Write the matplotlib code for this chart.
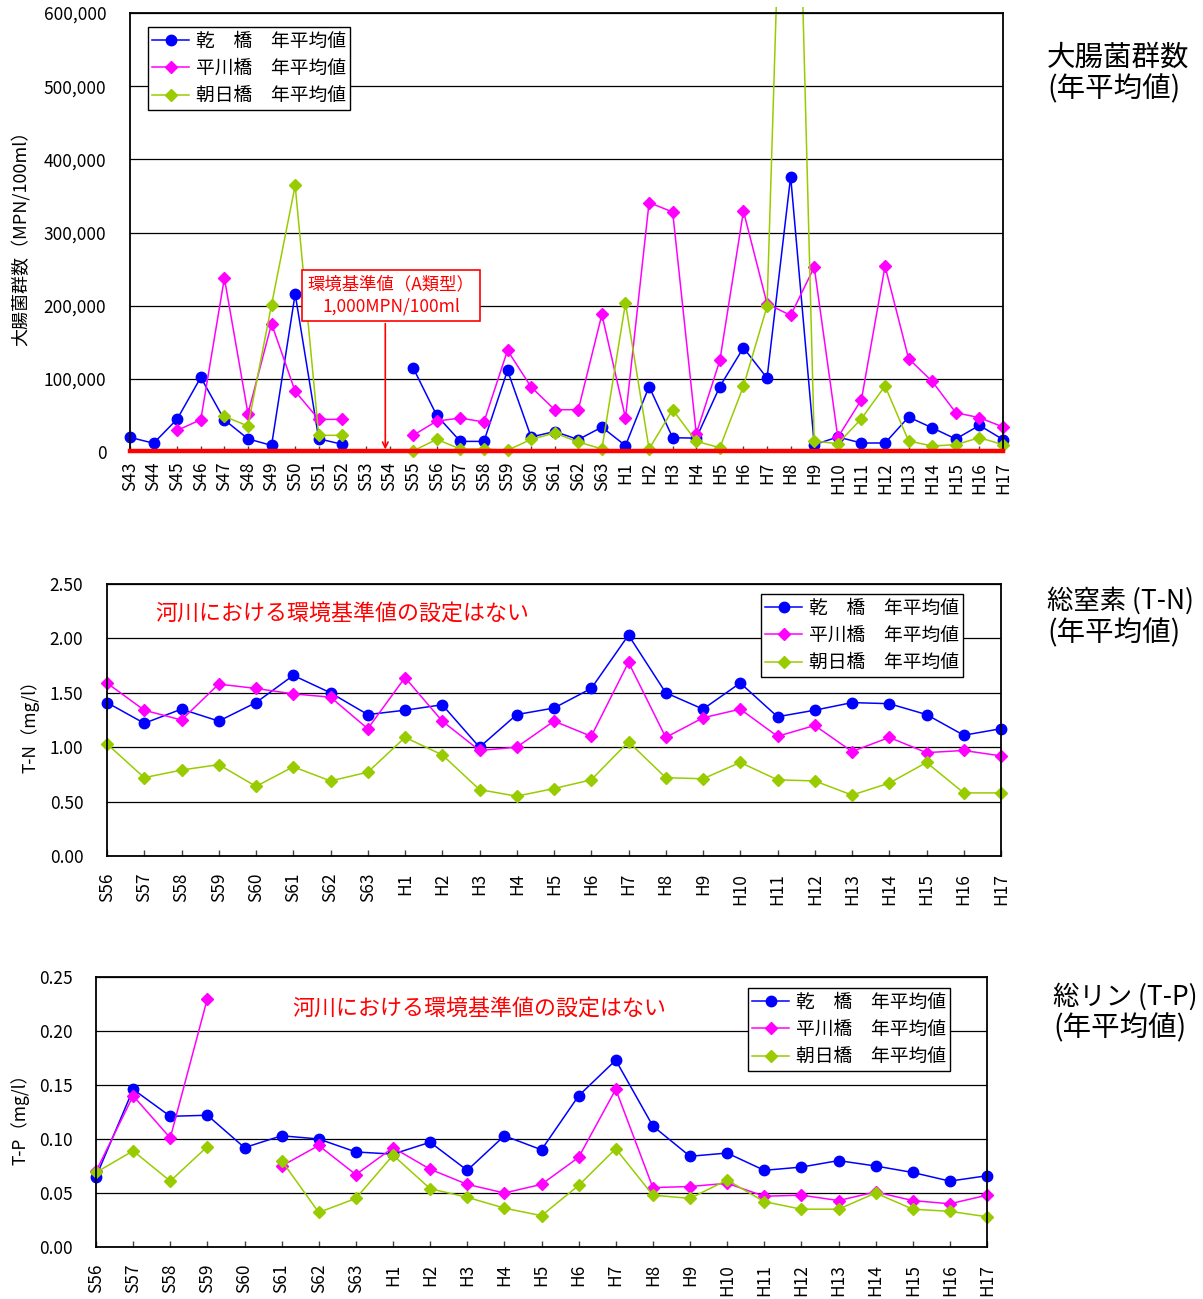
import numpy as np
import matplotlib
matplotlib.use('Agg')
import matplotlib.pyplot as plt
from matplotlib.patches import Rectangle
from matplotlib.ticker import FuncFormatter, MultipleLocator

plt.rcParams['font.family'] = ['Noto Sans CJK JP', 'DejaVu Sans']

nan = np.nan

# ---- 大腸菌群数 (MPN/100ml), S43 - H17 ----
years_coli = ['S43', 'S44', 'S45', 'S46', 'S47', 'S48', 'S49', 'S50', 'S51', 'S52',
              'S53', 'S54', 'S55', 'S56', 'S57', 'S58', 'S59', 'S60', 'S61', 'S62',
              'S63', 'H1', 'H2', 'H3', 'H4', 'H5', 'H6', 'H7', 'H8', 'H9', 'H10',
              'H11', 'H12', 'H13', 'H14', 'H15', 'H16', 'H17']
coli_inui = [20000, 12000, 45000, 102000, 44000, 18000, 9000, 216000, 18000, 10500,
             nan, nan, 115000, 50000, 14500, 14500, 111500, 20500, 28000, 17000,
             34000, 8700, 89500, 19500, 19000, 89500, 142500, 101000, 376500, 10000,
             20500, 12300, 12300, 47800, 33000, 17800, 36400, 17000]
coli_hirakawa = [nan, nan, 29600, 44200, 237700, 52400, 175300, 82900, 44600, 44600,
                 nan, nan, 22800, 42300, 46400, 41000, 138900, 88800, 57800, 57800,
                 188000, 46400, 341000, 327900, 25000, 125200, 329200, 202600, 186700,
                 252700, 20000, 71500, 254000, 127500, 96500, 53700, 46900, 34200]
coli_asahi = [nan, nan, nan, nan, 48700, 35500, 201300, 364300, 22800, 22800,
              nan, nan, 1500, 17300, 4100, 4100, 2300, 17300, 26000, 13700,
              4100, 203600, 4100, 57800, 14600, 5900, 90000, 199000, 1250000, 15000,
              11400, 45500, 90200, 15000, 8200, 10000, 19600, 10000]
coli_standard = 1000

# ---- 総窒素 / 総リン (mg/l), S56 - H17 ----
years_np = ['S56', 'S57', 'S58', 'S59', 'S60', 'S61', 'S62', 'S63', 'H1', 'H2',
            'H3', 'H4', 'H5', 'H6', 'H7', 'H8', 'H9', 'H10', 'H11', 'H12', 'H13',
            'H14', 'H15', 'H16', 'H17']
tn_inui = [1.41, 1.22, 1.35, 1.24, 1.41, 1.66, 1.50, 1.30, 1.34, 1.39, 1.00, 1.30,
           1.36, 1.54, 2.03, 1.50, 1.35, 1.59, 1.28, 1.34, 1.41, 1.40, 1.30, 1.11, 1.17]
tn_hirakawa = [1.59, 1.34, 1.25, 1.58, 1.54, 1.49, 1.46, 1.17, 1.64, 1.24, 0.97, 1.00,
               1.24, 1.10, 1.78, 1.09, 1.27, 1.35, 1.10, 1.20, 0.96, 1.09, 0.95, 0.97, 0.92]
tn_asahi = [1.03, 0.72, 0.79, 0.84, 0.64, 0.82, 0.69, 0.77, 1.09, 0.93, 0.61, 0.55,
            0.62, 0.70, 1.05, 0.72, 0.71, 0.86, 0.70, 0.69, 0.56, 0.67, 0.86, 0.58, 0.58]

tp_inui = [0.065, 0.146, 0.121, 0.122, 0.092, 0.103, 0.100, 0.088, 0.086, 0.097,
           0.071, 0.103, 0.090, 0.140, 0.173, 0.112, 0.084, 0.087, 0.071, 0.074,
           0.080, 0.075, 0.069, 0.061, 0.066]
tp_hirakawa = [0.070, 0.140, 0.101, 0.230, nan, 0.075, 0.094, 0.067, 0.092, 0.072,
               0.058, 0.050, 0.058, 0.083, 0.146, 0.055, 0.056, 0.059, 0.047, 0.048,
               0.043, 0.051, 0.043, 0.040, 0.048]
tp_asahi = [0.069, 0.089, 0.061, 0.093, nan, 0.080, 0.032, 0.045, 0.085, 0.054,
            0.046, 0.036, 0.029, 0.057, 0.091, 0.048, 0.045, 0.062, 0.042, 0.035,
            0.035, 0.050, 0.035, 0.033, 0.028]

series_labels = ['乾　橋　年平均値', '平川橋　年平均値', '朝日橋　年平均値']
series_colors = ['#0000FF', '#FF00FF', '#99CC00']
series_markers = ['o', 'D', 'D']
series_msizes = [7.5, 5.8, 5.8]

W, H = 1203, 1299
fig = plt.figure(figsize=(W / 100, H / 100), dpi=100)


def fx(px):
    return px / W


def fy(py):
    return 1 - py / H


def axes_px(l, t, r, b):
    return fig.add_axes([l / W, 1 - b / H, (r - l) / W, (b - t) / H])


def style_axes(ax, labels, ymax, ystep, fmt, xpad):
    n = len(labels)
    ax.set_xlim(0, n - 1)
    ax.set_ylim(0, ymax)
    ax.set_xticks(range(n))
    ax.set_xticklabels(labels, rotation=90, fontsize=12.5)
    ax.yaxis.set_major_locator(MultipleLocator(ystep))
    ax.yaxis.set_major_formatter(FuncFormatter(fmt))
    ax.tick_params(axis='y', length=0, pad=17, labelsize=12.5)
    ax.tick_params(axis='x', direction='in', length=4, width=1, color='#444444',
                   pad=xpad)
    ax.yaxis.grid(True, color='black', lw=0.9)
    ax.set_axisbelow(True)
    for s in ax.spines.values():
        s.set_color('black')
        s.set_linewidth(1.3)


def draw_series(ax, ys, top_extra=0.0):
    handles = []
    x = np.arange(len(ys[0]))
    for y, lab, col, mk, ms in zip(ys, series_labels, series_colors,
                                   series_markers, series_msizes):
        ln, = ax.plot(x, y, color=col, lw=1.1, marker=mk, ms=ms, mfc=col, mec=col,
                      label=lab)
        clip = Rectangle((-0.03, -0.1), 1.06, 1.1 + top_extra, transform=ax.transAxes)
        ln.set_clip_path(clip)
        handles.append(ln)
    return handles


def add_legend(ax, handles, left_px, top_px):
    leg = ax.legend(handles, series_labels, loc='upper left',
                    bbox_to_anchor=(fx(left_px), fy(top_px)),
                    bbox_transform=fig.transFigure, frameon=True, fancybox=False,
                    edgecolor='black', framealpha=1, borderaxespad=0, fontsize=13.5,
                    handlelength=2.0, handletextpad=0.35, borderpad=0.2,
                    labelspacing=0.33)
    leg.get_frame().set_linewidth(1.0)
    leg.set_zorder(10)
    return leg


# ---------- 大腸菌群数 ----------
ax1 = axes_px(130, 13, 1003, 452)
style_axes(ax1, years_coli, 600000, 100000, lambda v, p: f'{v:,.0f}', 7)
h1 = draw_series(ax1, [coli_inui, coli_hirakawa, coli_asahi], top_extra=0.014)
ax1.axhline(coli_standard, color='#FF0000', lw=3.2, zorder=5, clip_on=False)
ax1.spines['bottom'].set_visible(False)
add_legend(ax1, h1, 148, 27)
ax1.text(11.06, 214000, '環境基準値（A類型）\n1,000MPN/100ml', ha='center',
         va='center', color='#FF0000', fontsize=12.5, linespacing=1.35, zorder=8,
         bbox=dict(boxstyle='square,pad=0.3', fc='white', ec='#FF0000', lw=1.2))
ax1.annotate('', xy=(10.82, 3500), xytext=(10.82, 175500),
             arrowprops=dict(arrowstyle='->', color='#FF0000', lw=1.2,
                             shrinkA=0, shrinkB=0), zorder=8)
fig.text(fx(20), fy(234), '大腸菌群数（MPN/100ml）', rotation=90, ha='center',
         va='center', fontsize=13)
fig.text(fx(1047), fy(58), '大腸菌群数', ha='left', va='center', fontsize=20.5)
fig.text(fx(1047), fy(89), '(年平均値)', ha='left', va='center', fontsize=20.5)

# ---------- 総窒素 ----------
ax2 = axes_px(107, 584, 1001, 856)
style_axes(ax2, years_np, 2.5, 0.5, lambda v, p: f'{v:.2f}', 12)
h2 = draw_series(ax2, [tn_inui, tn_hirakawa, tn_asahi])
add_legend(ax2, h2, 761, 594)
fig.text(fx(155), fy(615), '河川における環境基準値の設定はない', ha='left',
         va='center', color='#FF0000', fontsize=15.8)
fig.text(fx(30), fy(722), 'T-N（mg/l）', rotation=90, ha='center', va='center',
         fontsize=12.5)
fig.text(fx(1047), fy(601), '総窒素 (T-N)', ha='left', va='center', fontsize=19)
fig.text(fx(1047), fy(633), '(年平均値)', ha='left', va='center', fontsize=20.5)

# ---------- 総リン ----------
ax3 = axes_px(96, 977, 987, 1247)
style_axes(ax3, years_np, 0.25, 0.05, lambda v, p: f'{v:.2f}', 12)
h3 = draw_series(ax3, [tp_inui, tp_hirakawa, tp_asahi])
add_legend(ax3, h3, 748, 988)
fig.text(fx(292), fy(1010), '河川における環境基準値の設定はない', ha='left',
         va='center', color='#FF0000', fontsize=15.8)
fig.text(fx(20), fy(1115), 'T-P（mg/l）', rotation=90, ha='center', va='center',
         fontsize=12.5)
fig.text(fx(1053), fy(997), '総リン (T-P)', ha='left', va='center', fontsize=19)
fig.text(fx(1053), fy(1028), '(年平均値)', ha='left', va='center', fontsize=20.5)

fig.savefig('out.png', dpi=100)
